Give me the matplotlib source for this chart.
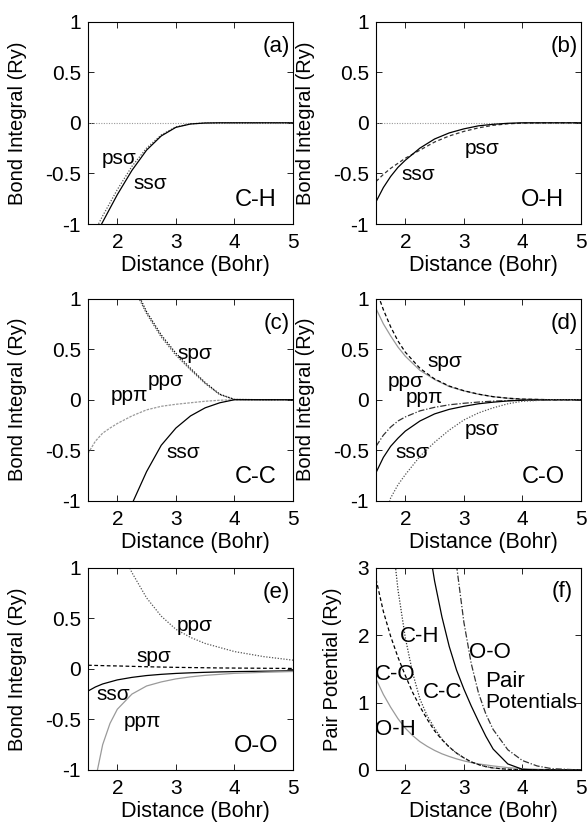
import numpy as np
import matplotlib
matplotlib.use("Agg")
import matplotlib.pyplot as plt

plt.rcParams['font.family'] = ['Liberation Sans', 'DejaVu Sans']
plt.rcParams['axes.unicode_minus'] = False

# distance grid (Bohr) for the bond integral panels
x = [1.5, 1.625, 1.75, 1.875, 2.0, 2.25, 2.5, 2.75, 3.0, 3.25, 3.5, 3.75, 4.0, 4.5, 5.0]

# (a) C-H
ch_ss = [-1.25, -1.115, -0.98, -0.845, -0.71, -0.47, -0.27, -0.13, -0.045, -0.012, -0.002, 0, 0, 0, 0]
ch_ps = [-1.20, -1.06, -0.92, -0.79, -0.66, -0.43, -0.25, -0.12, -0.04, -0.01, -0.002, 0, 0, 0, 0]

# (b) O-H
oh_ss = [-0.78, -0.64, -0.53, -0.44, -0.37, -0.25, -0.16, -0.10, -0.06, -0.03, -0.015, -0.005, 0, 0, 0]
oh_ps = [-0.58, -0.51, -0.45, -0.40, -0.35, -0.27, -0.19, -0.13, -0.085, -0.05, -0.025, -0.01, -0.003, 0, 0]

# (c) C-C
cc_sp = [2.05, 1.88, 1.72, 1.57, 1.42, 1.17, 0.87, 0.64, 0.46, 0.31, 0.17, 0.055, 0.003, 0, 0]
cc_pp = [2.0, 1.84, 1.68, 1.53, 1.39, 1.14, 0.85, 0.62, 0.44, 0.295, 0.16, 0.05, 0.003, 0, 0]
cc_pi = [-0.53, -0.41, -0.33, -0.28, -0.235, -0.16, -0.10, -0.065, -0.045, -0.03, -0.015, -0.005, 0, 0, 0]
cc_ss = [-2.2, -2.0, -1.8, -1.6, -1.4, -1.03, -0.71, -0.45, -0.28, -0.16, -0.08, -0.03, 0, 0, 0]

# (d) C-O
co_sp = [1.09, 0.89, 0.72, 0.58, 0.47, 0.31, 0.205, 0.135, 0.089, 0.055, 0.03, 0.015, 0.006, 0, 0]
co_pp = [0.90, 0.75, 0.63, 0.52, 0.43, 0.29, 0.20, 0.13, 0.087, 0.054, 0.03, 0.015, 0.006, 0, 0]
co_pi = [-0.46, -0.35, -0.27, -0.21, -0.17, -0.11, -0.075, -0.05, -0.035, -0.023, -0.014, -0.008, -0.003, 0, 0]
co_ss = [-0.72, -0.57, -0.46, -0.38, -0.31, -0.21, -0.14, -0.095, -0.065, -0.04, -0.024, -0.012, -0.005, 0, 0]
co_ps = [-1.5, -1.2, -0.97, -0.84, -0.74, -0.56, -0.42, -0.30, -0.20, -0.13, -0.08, -0.04, -0.015, 0, 0]

# (e) O-O
oo_pp = [2.2, 1.9, 1.66, 1.44, 1.25, 0.95, 0.70, 0.52, 0.39, 0.31, 0.25, 0.21, 0.17, 0.12, 0.085]
oo_sp = [0.035, 0.033, 0.031, 0.029, 0.028, 0.024, 0.02, 0.017, 0.014, 0.012, 0.01, 0.008, 0.007, 0.005, 0.003]
oo_ss = [-0.22, -0.18, -0.15, -0.13, -0.11, -0.085, -0.067, -0.055, -0.046, -0.04, -0.035, -0.031, -0.028, -0.024, -0.02]
oo_pi = [-1.6, -1.1, -0.75, -0.54, -0.40, -0.25, -0.17, -0.13, -0.10, -0.08, -0.065, -0.055, -0.045, -0.035, -0.027]

# (f) pair potentials, finer grid
xf = [1.5, 1.625, 1.75, 1.875, 2.0, 2.125, 2.25, 2.375, 2.5, 2.625, 2.75, 2.875,
      3.0, 3.125, 3.25, 3.375, 3.5, 3.75, 4.0, 4.25, 4.5, 5.0]
pair_ch = [6.8, 5.0, 3.66, 2.67, 1.96, 1.44, 1.05, 0.80, 0.62, 0.46, 0.34, 0.25,
           0.18, 0.12, 0.08, 0.05, 0.03, 0.01, 0.003, 0, 0, 0]
pair_co = [2.83, 2.35, 1.98, 1.67, 1.40, 1.15, 0.94, 0.75, 0.58, 0.45, 0.34, 0.25,
           0.18, 0.12, 0.08, 0.05, 0.03, 0.01, 0.003, 0, 0, 0]
pair_oh = [1.35, 1.12, 0.93, 0.76, 0.62, 0.51, 0.42, 0.35, 0.29, 0.24, 0.20, 0.165,
           0.135, 0.11, 0.09, 0.075, 0.06, 0.035, 0.02, 0.01, 0.005, 0]
pair_cc = [15.3, 12.4, 10.0, 8.1, 6.6, 5.3, 4.29, 3.47, 2.80, 2.27, 1.83, 1.48,
           1.20, 0.95, 0.72, 0.50, 0.31, 0.09, 0.01, 0, 0, 0]
pair_oo = [60, 45, 33, 25, 18.5, 13.7, 10.5, 7.9, 7.9, 5.8, 4.2, 3.03,
           2.19, 1.58, 1.14, 0.83, 0.60, 0.30, 0.14, 0.06, 0.02, 0]

black = 'black'
gray = '#9a9a9a'
dot = (0, (1, 1.3))
dash = (0, (3, 2))
dashdot = (0, (5, 1.5, 1, 1.5))
fs = 15

fig = plt.figure(figsize=(5.88, 8.23), dpi=100)
lefts = [0.1497, 0.6395]
bottoms = [0.7278, 0.3913, 0.0644]
w, h = 0.3486, 0.2460
axs = [fig.add_axes([lefts[i % 2], bottoms[i // 2], w, h]) for i in range(6)]

for i, ax in enumerate(axs):
    ax.set_xlim(1.5, 5)
    ax.set_xticks([2, 3, 4, 5])
    ax.set_xticklabels(['2', '3', '4', '5'])
    ax.set_xlabel('Distance (Bohr)', fontsize=15.5)
    ax.xaxis.set_label_coords(0.525, -0.233)
    ax.xaxis.label.set_va('baseline')
    ax.tick_params(direction='in', top=True, right=True, length=4, width=0.6,
                   labelsize=fs)
    ax.tick_params(axis='x', pad=6.5)
    ax.tick_params(axis='y', pad=5)
    for s in ax.spines.values():
        s.set_linewidth(0.8)
    if i < 5:
        ax.set_ylim(-1, 1)
        ax.set_yticks([-1, -0.5, 0, 0.5, 1])
        ax.set_yticklabels(['-1', '-0.5', '0', '0.5', '1'])
        ax.set_ylabel('Bond Integral (Ry)', fontsize=14.5)
        ax.yaxis.set_label_coords(-0.345, 0.5)
    else:
        ax.set_ylim(0, 3)
        ax.set_yticks([0, 1, 2, 3])
        ax.set_yticklabels(['0', '1', '2', '3'])
        ax.set_ylabel('Pair Potential (Ry)', fontsize=14.5)
        ax.yaxis.set_label_coords(-0.21, 0.5)
    ax.yaxis.label.set_va('center')

lw = 0.9

# (a)
ax = axs[0]
ax.axhline(0, color=gray, lw=0.8, ls=dot)
ax.plot(x, ch_ps, color='#555555', lw=lw, ls=dot)
ax.plot(x, ch_ss, color=black, lw=lw)
ax.text(2.03, -0.35, 'psσ', fontsize=fs, ha='center', va='center')
ax.text(2.57, -0.60, 'ssσ', fontsize=fs, ha='center', va='center')
ax.text(4.37, -0.76, 'C-H', fontsize=fs + 2, ha='center', va='center')
ax.text(4.95, 0.75, '(a)', fontsize=fs + 1, ha='right', va='center')

# (b)
ax = axs[1]
ax.axhline(0, color=gray, lw=0.8, ls=dot)
ax.plot(x, oh_ps, color='#333333', lw=lw, ls=dash)
ax.plot(x, oh_ss, color=black, lw=lw)
ax.text(3.31, -0.25, 'psσ', fontsize=fs, ha='center', va='center')
ax.text(2.22, -0.51, 'ssσ', fontsize=fs, ha='center', va='center')
ax.text(4.35, -0.76, 'O-H', fontsize=fs + 2, ha='center', va='center')
ax.text(4.95, 0.75, '(b)', fontsize=fs + 1, ha='right', va='center')

# (c)
ax = axs[2]
ax.plot(x, cc_pi, color=gray, lw=lw, ls=(0, (2, 1)))
ax.plot(x, cc_pp, color='#444444', lw=lw, ls=dot)
ax.plot(x, cc_sp, color=black, lw=lw, ls=dot)
ax.plot(x, cc_ss, color=black, lw=lw)
ax.text(3.33, 0.46, 'spσ', fontsize=fs, ha='center', va='center')
ax.text(2.83, 0.19, 'ppσ', fontsize=fs, ha='center', va='center')
ax.text(2.20, 0.04, 'ppπ', fontsize=fs, ha='center', va='center')
ax.text(3.13, -0.52, 'ssσ', fontsize=fs, ha='center', va='center')
ax.text(4.37, -0.76, 'C-C', fontsize=fs + 2, ha='center', va='center')
ax.text(4.95, 0.75, '(c)', fontsize=fs + 1, ha='right', va='center')

# (d)
ax = axs[3]
ax.plot(x, co_pp, color=gray, lw=lw)
ax.plot(x, co_sp, color=black, lw=lw, ls=dash)
ax.plot(x, co_pi, color='#333333', lw=lw, ls=dashdot)
ax.plot(x, co_ss, color=black, lw=lw)
ax.plot(x, co_ps, color='#555555', lw=lw, ls=dot)
ax.text(2.68, 0.38, 'spσ', fontsize=fs, ha='center', va='center')
ax.text(2.00, 0.18, 'ppσ', fontsize=fs, ha='center', va='center')
ax.text(2.32, 0.02, 'ppπ', fontsize=fs, ha='center', va='center')
ax.text(3.31, -0.29, 'psσ', fontsize=fs, ha='center', va='center')
ax.text(2.11, -0.52, 'ssσ', fontsize=fs, ha='center', va='center')
ax.text(4.35, -0.76, 'C-O', fontsize=fs + 2, ha='center', va='center')
ax.text(4.95, 0.75, '(d)', fontsize=fs + 1, ha='right', va='center')

# (e)
ax = axs[4]
ax.plot(x, oo_pp, color='#555555', lw=lw, ls=dot)
ax.plot(x, oo_sp, color=black, lw=lw, ls=dash)
ax.plot(x, oo_ss, color=black, lw=lw)
ax.plot(x, oo_pi, color=gray, lw=lw)
ax.text(3.32, 0.43, 'ppσ', fontsize=fs, ha='center', va='center')
ax.text(2.62, 0.12, 'spσ', fontsize=fs, ha='center', va='center')
ax.text(1.93, -0.25, 'ssσ', fontsize=fs, ha='center', va='center')
ax.text(2.43, -0.52, 'ppπ', fontsize=fs, ha='center', va='center')
ax.text(4.37, -0.76, 'O-O', fontsize=fs + 2, ha='center', va='center')
ax.text(4.95, 0.75, '(e)', fontsize=fs + 1, ha='right', va='center')

# (f)
ax = axs[5]
ax.plot(xf, pair_oh, color=gray, lw=lw)
ax.plot(xf, pair_co, color=black, lw=lw, ls=dash)
ax.plot(xf, pair_ch, color='#333333', lw=lw, ls=dot)
ax.plot(xf, pair_cc, color=black, lw=lw)
ax.plot(xf, pair_oo, color='#333333', lw=lw, ls=dashdot)
ax.text(2.25, 1.98, 'C-H', fontsize=fs + 1, ha='center', va='center')
ax.text(3.45, 1.74, 'O-O', fontsize=fs + 1, ha='center', va='center')
ax.text(1.83, 1.41, 'C-O', fontsize=fs + 1, ha='center', va='center')
ax.text(2.64, 1.15, 'C-C', fontsize=fs + 1, ha='center', va='center')
ax.text(1.83, 0.60, 'O-H', fontsize=fs + 1, ha='center', va='center')
ax.text(3.37, 1.31, 'Pair', fontsize=fs + 1, ha='left', va='center')
ax.text(3.37, 1.00, 'Potentials', fontsize=fs, ha='left', va='center')
ax.text(4.86, 2.65, '(f)', fontsize=fs + 1, ha='right', va='center')

fig.savefig('out.png', dpi=100)
